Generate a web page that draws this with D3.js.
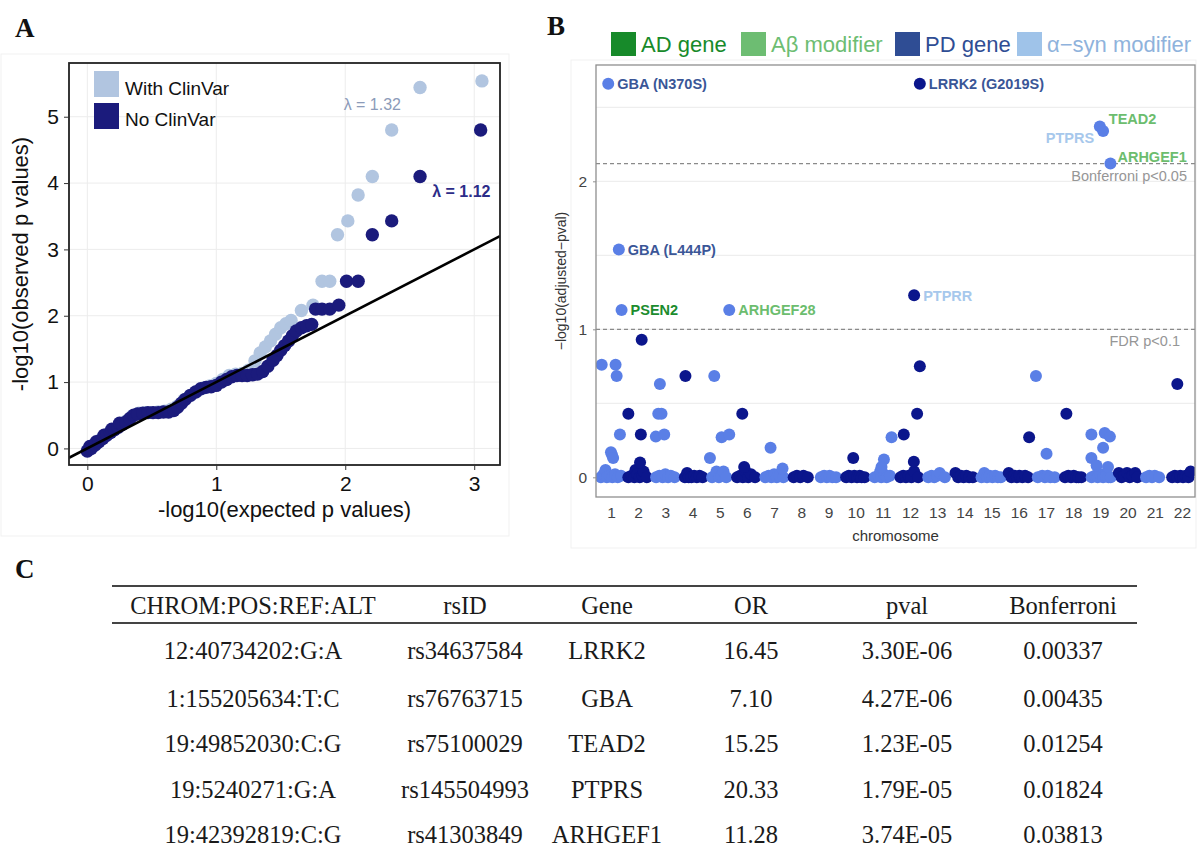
<!DOCTYPE html>
<html>
<head>
<meta charset="utf-8">
<title>QQ, Manhattan and top hits</title>
<script src="https://cdn.jsdelivr.net/npm/d3@7"></script>
<style>
  body { margin: 0; background: #fff; }
  svg { display: block; }
  .sans { font-family: "Liberation Sans", Arial, Helvetica, sans-serif; }
  .serif { font-family: "Liberation Serif", "Times New Roman", serif; }
</style>
</head>
<body>
<div id="chart"></div>
<script>
// ---------------------------------------------------------------
// Panel A : QQ plot, [expected, observed] -log10 p values
// ---------------------------------------------------------------
var qqWithClinVar = [
  [0.00,-0.03],[0.05,0.05],[0.10,0.13],[0.15,0.21],[0.20,0.28],[0.25,0.34],[0.30,0.41],
  [0.35,0.49],[0.40,0.53],[0.45,0.54],[0.50,0.54],[0.55,0.55],[0.60,0.56],[0.65,0.59],
  [0.70,0.64],[0.75,0.73],[0.80,0.80],[0.85,0.86],[0.90,0.91],[0.95,0.94],[1.00,0.98],
  [1.05,1.04],[1.10,1.10],[1.15,1.12],[1.20,1.13],[1.25,1.18],[1.30,1.32],[1.34,1.44],
  [1.38,1.53],[1.42,1.62],[1.46,1.72],[1.50,1.82],[1.54,1.88],[1.58,1.93],[1.66,2.08],
  [1.75,2.16],[1.82,2.52],[1.88,2.52],[1.94,3.22],[2.02,3.43],[2.10,3.82],[2.21,4.10],
  [2.36,4.80],[2.58,5.44],[3.06,5.54]
];
var qqNoClinVar = [
  [0.00,-0.04],[0.02,0.03],[0.03,0.00],[0.06,0.05],[0.07,0.10],[0.09,0.10],[0.12,0.15],
  [0.13,0.20],[0.15,0.20],[0.18,0.24],[0.19,0.29],[0.21,0.28],[0.24,0.32],[0.25,0.38],
  [0.27,0.36],[0.30,0.40],[0.33,0.45],[0.36,0.50],[0.39,0.52],[0.43,0.53],[0.47,0.54],
  [0.51,0.54],[0.55,0.54],[0.59,0.55],[0.63,0.55],[0.67,0.57],[0.70,0.62],[0.73,0.68],
  [0.76,0.74],[0.80,0.80],[0.84,0.85],[0.88,0.90],[0.92,0.92],[0.96,0.93],[1.00,0.95],
  [1.04,1.00],[1.08,1.04],[1.12,1.08],[1.16,1.10],[1.20,1.10],[1.24,1.10],[1.28,1.11],
  [1.32,1.12],[1.36,1.16],[1.40,1.24],[1.44,1.33],[1.47,1.40],[1.50,1.48],[1.53,1.55],
  [1.56,1.62],[1.59,1.70],[1.62,1.77],[1.66,1.82],[1.70,1.85],[1.74,1.87],[1.77,2.10],
  [1.82,2.10],[1.88,2.10],[1.95,2.16],[2.01,2.52],[2.10,2.52],[2.21,3.22],[2.36,3.43],
  [2.58,4.10],[3.05,4.80]
];
var qqSeriesNames = ["With ClinVar", "No ClinVar"];
var qqLambdas = ["λ = 1.32", "λ = 1.12"];
var qqLambdaAt = [[2.21, 5.18], [2.90, 3.87]];
var qqXTicks = [0, 1, 2, 3];
var qqYTicks = [0, 1, 2, 3, 4, 5];

// ---------------------------------------------------------------
// Panel B : Manhattan plot, [chromosome, position within chromosome (0-1), -log10(adj p)]
// ---------------------------------------------------------------
var chromosomes = [1,2,3,4,5,6,7,8,9,10,11,12,13,14,15,16,17,18,19,20,21,22];
var baselinePoints = [
  [1,0.13,0],[1,0.23,0.02],[1,0.30,0.05],[1,0.35,0],[1,0.45,0.01],[1,0.55,0],[1,0.65,0.02],[1,0.75,0],[1,0.87,0.01],
  [2,0.14,0],[2,0.26,0.01],[2,0.36,0],[2,0.40,0.05],[2,0.46,0.02],[2,0.56,0],[2,0.66,0.01],[2,0.70,0.04],[2,0.82,0],
  [3,0.16,0],[3,0.28,0.01],[3,0.40,0],[3,0.50,0.02],[3,0.60,0],[3,0.70,0.01],[3,0.84,0],
  [4,0.22,0],[4,0.30,0.03],[4,0.36,0],[4,0.46,0],[4,0.56,0.01],[4,0.66,0],[4,0.76,0.01],[4,0.87,0],
  [5,0.22,0],[5,0.38,0.04],[5,0.47,0],[5,0.56,0.01],[5,0.64,0.04],[5,0.74,0],
  [6,0.14,0],[6,0.25,0.01],[6,0.35,0],[6,0.45,0.04],[6,0.55,0],[6,0.65,0.02],[6,0.80,0],
  [7,0.18,0],[7,0.30,0.01],[7,0.40,0],[7,0.50,0.02],[7,0.60,0],[7,0.70,0.01],[7,0.84,0],
  [8,0.22,0],[8,0.34,0.01],[8,0.46,0],[8,0.58,0.01],[8,0.74,0],
  [9,0.22,0],[9,0.34,0.01],[9,0.44,0],[9,0.54,0.01],[9,0.64,0],[9,0.78,0],
  [10,0.15,0],[10,0.25,0.01],[10,0.35,0],[10,0.45,0.01],[10,0.55,0],[10,0.65,0.01],[10,0.72,0],[10,0.83,0],
  [11,0.20,0],[11,0.34,0.01],[11,0.40,0.04],[11,0.44,0],[11,0.54,0.02],[11,0.64,0],[11,0.76,0.01],
  [12,0.15,0],[12,0.25,0.01],[12,0.35,0],[12,0.45,0.01],[12,0.55,0],[12,0.65,0.04],[12,0.80,0],
  [13,0.17,0],[13,0.29,0.01],[13,0.39,0],[13,0.49,0.01],[13,0.59,0.03],[13,0.78,0],
  [14,0.17,0.03],[14,0.27,0],[14,0.37,0.01],[14,0.47,0],[14,0.57,0.01],[14,0.67,0],[14,0.81,0],
  [15,0.13,0],[15,0.23,0.03],[15,0.33,0],[15,0.43,0.01],[15,0.53,0],[15,0.63,0.01],[15,0.73,0],[15,0.84,0],
  [16,0.13,0.03],[16,0.23,0],[16,0.33,0.01],[16,0.43,0],[16,0.53,0.01],[16,0.63,0],[16,0.73,0.01],[16,0.84,0],
  [17,0.20,0],[17,0.36,0.01],[17,0.46,0],[17,0.56,0.01],[17,0.66,0],[17,0.82,0],
  [18,0.20,0],[18,0.32,0.01],[18,0.42,0],[18,0.52,0.01],[18,0.62,0],[18,0.70,0],[18,0.80,0],
  [19,0.18,0],[19,0.30,0.01],[19,0.40,0],[19,0.50,0.02],[19,0.60,0],[19,0.70,0.01],[19,0.80,0],[19,0.88,0],
  [20,0.18,0.03],[20,0.28,0],[20,0.38,0.01],[20,0.48,0.03],[20,0.58,0],[20,0.68,0.01],[20,0.78,0.03],[20,0.86,0],
  [21,0.18,0],[21,0.30,0.01],[21,0.40,0],[21,0.50,0.01],[21,0.66,0],
  [22,0.14,0],[22,0.24,0.01],[22,0.34,0],[22,0.44,0.01],[22,0.54,0],[22,0.64,0.01],[22,0.74,0],[22,0.82,0.04]
];
var hitPoints = [
  [1,0.16,0.76],[1,0.67,0.76],[1,0.71,0.685],[1,0.83,0.29],[1,0.50,0.17],[1,0.54,0.15],[1,0.58,0.13],
  [2,0.63,0.93],[2,0.14,0.43],[2,0.60,0.29],[2,0.57,0.10],
  [3,0.30,0.63],[3,0.24,0.43],[3,0.36,0.43],[3,0.15,0.275],[3,0.46,0.29],
  [4,0.24,0.685],
  [5,0.30,0.685],[5,0.57,0.27],[5,0.85,0.29],[5,0.14,0.13],
  [6,0.33,0.43],[6,0.40,0.07],
  [7,0.37,0.20],[7,0.81,0.06],
  [10,0.41,0.13],
  [11,0.82,0.27],[11,0.54,0.12],[11,0.45,0.07],
  [12,0.86,0.75],[12,0.76,0.43],[12,0.27,0.29],[12,0.64,0.105],
  [16,0.88,0.27],
  [17,0.13,0.685],[17,0.52,0.16],
  [18,0.25,0.43],
  [19,0.17,0.29],[19,0.66,0.30],[19,0.85,0.275],[19,0.60,0.20],[19,0.17,0.13],[19,0.36,0.08],[19,0.78,0.07],
  [22,0.33,0.63]
];
var labelGenes = ["GBA (N370S)", "LRRK2 (G2019S)", "TEAD2", "PTPRS", "ARHGEF1", "GBA (L444P)", "PTPRR", "PSEN2", "ARHGEF28"];
var labelChrom = [1, 12, 19, 19, 19, 1, 12, 1, 5];
var labelPos   = [0.40, 0.86, 0.48, 0.60, 0.87, 0.79, 0.65, 0.89, 0.85];
var labelValue = [2.66, 2.66, 2.37, 2.34, 2.12, 1.54, 1.23, 1.13, 1.13];
var labelGroup = ["PD gene", "PD gene", "Aβ modifier", "α−syn modifier", "Aβ modifier", "PD gene", "α−syn modifier", "AD gene", "Aβ modifier"];
var geneGroups = ["AD gene", "Aβ modifier", "PD gene", "α−syn modifier"];
var thresholds = [2.12, 1.0];
var thresholdNames = ["Bonferroni p<0.05", "FDR p<0.1"];
var manhattanYTicks = [0, 1, 2];

// ---------------------------------------------------------------
// Panel C : table of top variants
// ---------------------------------------------------------------
var tableHeaders = ["CHROM:POS:REF:ALT", "rsID", "Gene", "OR", "pval", "Bonferroni"];
var variants   = ["12:40734202:G:A", "1:155205634:T:C", "19:49852030:C:G", "19:5240271:G:A", "19:42392819:C:G"];
var rsIDs      = ["rs34637584", "rs76763715", "rs75100029", "rs145504993", "rs41303849"];
var genes      = ["LRRK2", "GBA", "TEAD2", "PTPRS", "ARHGEF1"];
var oddsRatios = ["16.45", "7.10", "15.25", "20.33", "11.28"];
var pvals      = ["3.30E-06", "4.27E-06", "1.23E-05", "1.79E-05", "3.74E-05"];
var bonferroni = ["0.00337", "0.00435", "0.01254", "0.01824", "0.03813"];

// ===============================================================
var svg = d3.select("#chart").append("svg")
    .attr("width", 1197)
    .attr("height", 856);

// panel letters
svg.selectAll(".panel-letter")
    .data([["A", 15, 37], ["B", 547, 35], ["C", 15, 578]])
    .enter().append("text")
    .attr("class", "serif")
    .attr("x", function (d) { return d[1]; })
    .attr("y", function (d) { return d[2]; })
    .attr("font-size", 27)
    .attr("font-weight", "bold")
    .attr("fill", "#111")
    .text(function (d) { return d[0]; });

//------------------
// Panel A
//------------------
var pa = { left: 69, right: 500, top: 63, bottom: 465 };
var xA = d3.scaleLinear().domain([-0.142, 3.2]).range([pa.left, pa.right]);
var yA = d3.scaleLinear().domain([-0.25, 5.81]).range([pa.bottom, pa.top]);
var gA = svg.append("g");

// faint frame of the figure tile
gA.append("rect").attr("x", 1).attr("y", 54).attr("width", 508).attr("height", 482)
    .attr("fill", "none").attr("stroke", "#f1f1f1");

gA.append("defs").append("clipPath").attr("id", "clipA")
    .append("rect").attr("x", pa.left).attr("y", pa.top)
    .attr("width", pa.right - pa.left).attr("height", pa.bottom - pa.top);

gA.selectAll(".gridx").data(qqXTicks).enter().append("line")
    .attr("x1", function (d) { return xA(d); }).attr("x2", function (d) { return xA(d); })
    .attr("y1", pa.top).attr("y2", pa.bottom)
    .attr("stroke", "#ececec").attr("stroke-width", 1);
gA.selectAll(".gridy").data(qqYTicks).enter().append("line")
    .attr("y1", function (d) { return yA(d); }).attr("y2", function (d) { return yA(d); })
    .attr("x1", pa.left).attr("x2", pa.right)
    .attr("stroke", "#ececec").attr("stroke-width", 1);

var ptsA = gA.append("g").attr("clip-path", "url(#clipA)");
var qqColors = ["#b1c5e0", "#1b1b7c"];
[qqWithClinVar, qqNoClinVar].forEach(function (series, i) {
    ptsA.selectAll(".qq" + i).data(series).enter().append("circle")
        .attr("cx", function (d) { return xA(d[0]); })
        .attr("cy", function (d) { return yA(d[1]); })
        .attr("r", 6.7)
        .attr("fill", qqColors[i]);
});

// y = x reference line
ptsA.append("line")
    .attr("x1", xA(-0.142)).attr("y1", yA(-0.142))
    .attr("x2", xA(3.2)).attr("y2", yA(3.2))
    .attr("stroke", "#000").attr("stroke-width", 2.6);

gA.append("rect").attr("x", pa.left).attr("y", pa.top)
    .attr("width", pa.right - pa.left).attr("height", pa.bottom - pa.top)
    .attr("fill", "none").attr("stroke", "#222").attr("stroke-width", 1.8);

var axA_x = gA.append("g").attr("class", "sans")
    .attr("transform", "translate(0," + pa.bottom + ")")
    .call(d3.axisBottom(xA).tickValues(qqXTicks).tickSize(5).tickPadding(6).tickFormat(d3.format("d")));
var axA_y = gA.append("g").attr("class", "sans")
    .attr("transform", "translate(" + pa.left + ",0)")
    .call(d3.axisLeft(yA).tickValues(qqYTicks).tickSize(5).tickPadding(5).tickFormat(d3.format("d")));
[axA_x, axA_y].forEach(function (a) {
    a.select(".domain").remove();
    a.selectAll(".tick line").attr("stroke", "#333");
    a.selectAll(".tick text").attr("font-size", 21).attr("fill", "#111")
        .attr("font-family", "Liberation Sans, Arial, sans-serif");
});

gA.append("text").attr("class", "sans")
    .attr("x", (pa.left + pa.right) / 2).attr("y", 517)
    .attr("text-anchor", "middle").attr("font-size", 22).attr("fill", "#111")
    .text("-log10(expected p values)");
gA.append("text").attr("class", "sans")
    .attr("transform", "translate(28," + ((pa.top + pa.bottom) / 2) + ") rotate(-90)")
    .attr("text-anchor", "middle").attr("font-size", 22).attr("fill", "#111")
    .text("-log10(observed p values)");

// legend
var legA = gA.append("g");
qqSeriesNames.forEach(function (name, i) {
    legA.append("rect").attr("x", 94).attr("y", 71 + i * 32)
        .attr("width", 25).attr("height", 26).attr("fill", qqColors[i]);
    legA.append("text").attr("class", "sans")
        .attr("x", 125).attr("y", 95 + i * 31)
        .attr("font-size", 19).attr("fill", "#111").text(name);
});

// lambda annotations
var lambdaColors = ["#8c9bb9", "#2c2c88"];
qqLambdas.forEach(function (t, i) {
    gA.append("text").attr("class", "sans")
        .attr("x", xA(qqLambdaAt[i][0])).attr("y", yA(qqLambdaAt[i][1]) + 5)
        .attr("text-anchor", "middle").attr("font-size", 16).attr("font-weight", i === 0 ? "normal" : "bold")
        .attr("fill", lambdaColors[i]).text(t);
});

//------------------
// Panel B
//------------------
var pb = { left: 596, right: 1195, top: 65, bottom: 497 };
var xB = d3.scaleLinear().domain([0.45, 22.48]).range([pb.left, pb.right]);
var yB = d3.scaleLinear().domain([-0.133, 2.786]).range([pb.bottom, pb.top]);
var gB = svg.append("g");

gB.append("rect").attr("x", 571).attr("y", 60).attr("width", 625).attr("height", 488)
    .attr("fill", "none").attr("stroke", "#f1f1f1");

gB.append("defs").append("clipPath").attr("id", "clipB")
    .append("rect").attr("x", pb.left).attr("y", pb.top)
    .attr("width", pb.right - pb.left).attr("height", pb.bottom - pb.top);

gB.selectAll(".gridB").data([0, 0.5, 1, 1.5, 2, 2.5]).enter().append("line")
    .attr("x1", pb.left).attr("x2", pb.right)
    .attr("y1", function (d) { return yB(d); }).attr("y2", function (d) { return yB(d); })
    .attr("stroke", "#eeeeee").attr("stroke-width", 1.2);

// threshold lines
var thresholdRight = [1187, 1180];
thresholds.forEach(function (t, i) {
    gB.append("line")
        .attr("x1", pb.left).attr("x2", pb.right)
        .attr("y1", yB(t)).attr("y2", yB(t))
        .attr("stroke", "#8a8a8a").attr("stroke-width", 1.2)
        .attr("stroke-dasharray", "4,3");
    gB.append("text").attr("class", "sans")
        .attr("x", thresholdRight[i]).attr("y", yB(t) + 17)
        .attr("text-anchor", "end").attr("font-size", 14.5).attr("fill", "#969696")
        .text(thresholdNames[i]);
});

var chromColor = function (c) { return c % 2 === 1 ? "#5a7fe6" : "#0b168c"; };
var manhattan = baselinePoints.concat(hitPoints)
    .concat(labelGenes.map(function (g, i) { return [labelChrom[i], labelPos[i], labelValue[i]]; }));
// later chromosomes are drawn over earlier ones
manhattan = manhattan.map(function (d, i) { return { c: d[0], p: d[1], v: d[2], i: i }; })
    .sort(function (a, b) { return a.c - b.c || a.i - b.i; });

gB.append("g").attr("clip-path", "url(#clipB)")
    .selectAll("circle").data(manhattan).enter().append("circle")
    .attr("cx", function (d) { return xB(d.c - 0.5 + d.p); })
    .attr("cy", function (d) { return yB(d.v); })
    .attr("r", 6)
    .attr("fill", function (d) { return chromColor(d.c); });

gB.append("rect").attr("x", pb.left).attr("y", pb.top)
    .attr("width", pb.right - pb.left).attr("height", pb.bottom - pb.top)
    .attr("fill", "none").attr("stroke", "#8f8f8f").attr("stroke-width", 1.3);

// gene labels
var groupColors = { "AD gene": "#178a2a", "Aβ modifier": "#6dbd72", "PD gene": "#2f4d94", "α−syn modifier": "#9fc3e9" };
var labelColors = { "AD gene": "#1c8c2e", "Aβ modifier": "#6cbd6e", "PD gene": "#3a5697", "α−syn modifier": "#a7c8ec" };
var labelPlace = { "TEAD2": [9, -8, "start"], "PTPRS": [-9, 7, "end"], "ARHGEF1": [7, -7, "start"] };
labelGenes.forEach(function (g, i) {
    var pl = labelPlace[g] || [9, 0, "start"];
    gB.append("text").attr("class", "sans")
        .attr("x", xB(labelChrom[i] - 0.5 + labelPos[i]) + pl[0])
        .attr("y", yB(labelValue[i]) + pl[1])
        .attr("dy", "0.36em")
        .attr("text-anchor", pl[2])
        .attr("font-size", 14.5).attr("font-weight", "bold")
        .attr("fill", labelColors[labelGroup[i]])
        .text(g);
});

// axes
var axB_x = gB.append("g").attr("class", "sans")
    .attr("transform", "translate(0," + pb.bottom + ")")
    .call(d3.axisBottom(xB).tickValues(chromosomes).tickSize(0).tickPadding(10).tickFormat(d3.format("d")));
var axB_y = gB.append("g").attr("class", "sans")
    .attr("transform", "translate(" + pb.left + ",0)")
    .call(d3.axisLeft(yB).tickValues(manhattanYTicks).tickSize(3).tickPadding(6).tickFormat(d3.format("d")));
[axB_x, axB_y].forEach(function (a) {
    a.select(".domain").remove();
    a.selectAll(".tick line").attr("stroke", "#8f8f8f");
    a.selectAll(".tick text").attr("font-size", 15.5).attr("fill", "#444")
        .attr("font-family", "Liberation Sans, Arial, sans-serif");
});

gB.append("text").attr("class", "sans")
    .attr("x", (pb.left + pb.right) / 2).attr("y", 541)
    .attr("text-anchor", "middle").attr("font-size", 15).attr("fill", "#333")
    .text("chromosome");
gB.append("text").attr("class", "sans")
    .attr("transform", "translate(566," + ((pb.top + pb.bottom) / 2) + ") rotate(-90)")
    .attr("text-anchor", "middle").attr("font-size", 14).attr("fill", "#333")
    .text("−log10(adjusted−pval)");

// legend on top
var legX = [611, 741, 895, 1017];
geneGroups.forEach(function (g, i) {
    gB.append("rect").attr("x", legX[i]).attr("y", 32)
        .attr("width", 25).attr("height", 24).attr("fill", groupColors[g]);
    gB.append("text").attr("class", "sans")
        .attr("x", legX[i] + 30).attr("y", 52)
        .attr("font-size", 22).attr("fill", i === 3 ? "#8fb3dc" : groupColors[g])
        .text(g);
});

//------------------
// Panel C : table
//------------------
var colX = [253, 465, 607, 751, 907, 1063];
var rowY = [650, 698, 743, 789, 834];
var gC = svg.append("g").attr("class", "serif");
gC.append("line").attr("x1", 112).attr("x2", 1137).attr("y1", 586).attr("y2", 586)
    .attr("stroke", "#444").attr("stroke-width", 2);
gC.append("line").attr("x1", 112).attr("x2", 1137).attr("y1", 623).attr("y2", 623)
    .attr("stroke", "#444").attr("stroke-width", 2);
gC.selectAll(".th").data(tableHeaders).enter().append("text")
    .attr("x", function (d, i) { return colX[i]; })
    .attr("y", 605).attr("dy", "0.35em")
    .attr("text-anchor", "middle").attr("font-size", 24.5).attr("fill", "#1a1a1a")
    .text(function (d) { return d; });
var columns = [variants, rsIDs, genes, oddsRatios, pvals, bonferroni];
columns.forEach(function (col, ci) {
    gC.selectAll(".td" + ci).data(col).enter().append("text")
        .attr("x", colX[ci])
        .attr("y", function (d, ri) { return rowY[ri]; })
        .attr("dy", "0.35em")
        .attr("text-anchor", "middle").attr("font-size", 24.5).attr("fill", "#1a1a1a")
        .text(function (d) { return d; });
});
</script>
</body>
</html>
